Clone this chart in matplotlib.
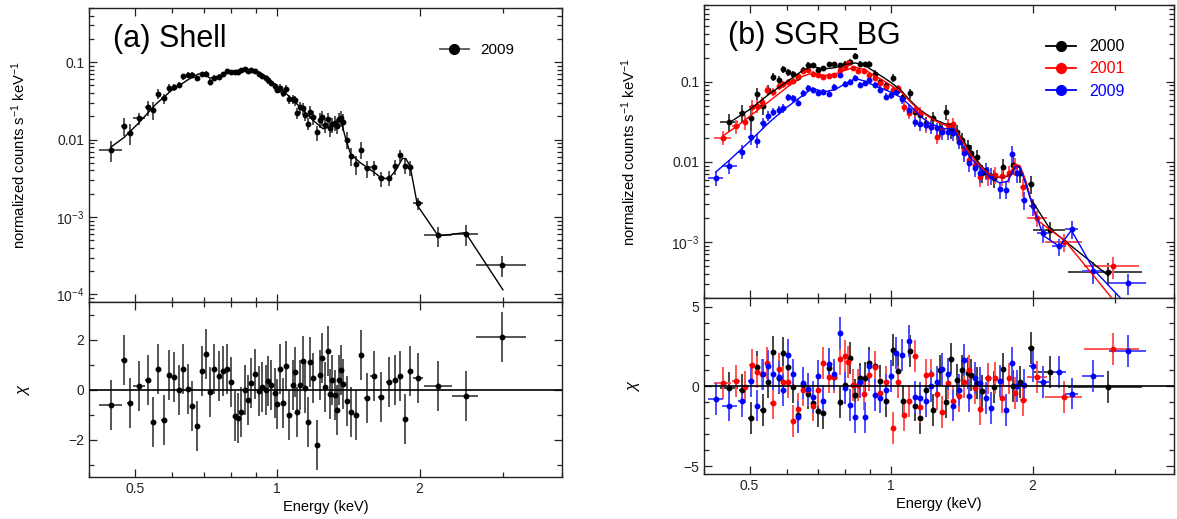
import numpy as np
import matplotlib
matplotlib.use("Agg")
import matplotlib.pyplot as plt
from matplotlib.lines import Line2D
from matplotlib.ticker import FixedLocator, FuncFormatter, LogLocator, MultipleLocator, NullFormatter

plt.rcParams['font.family'] = ['Liberation Sans', 'DejaVu Sans']
plt.rcParams['mathtext.fontset'] = 'custom'
plt.rcParams['mathtext.rm'] = 'Liberation Sans'
plt.rcParams['mathtext.it'] = 'Liberation Sans:italic'
plt.rcParams['mathtext.bf'] = 'Liberation Sans:bold'

# ---- (a) Shell, 2009 ----
shell_e = [0.445, 0.474, 0.488, 0.510, 0.532, 0.546, 0.561, 0.575, 0.591, 0.604,
           0.619, 0.633, 0.647, 0.662, 0.677, 0.692, 0.707, 0.720, 0.736, 0.753,
           0.768, 0.785, 0.798, 0.813, 0.826, 0.840, 0.853, 0.868, 0.881, 0.898,
           0.914, 0.929, 0.945, 0.957, 0.969, 0.987, 1.000, 1.015, 1.028, 1.043,
           1.059, 1.082, 1.090, 1.102, 1.116, 1.133, 1.147, 1.160, 1.175, 1.190,
           1.212, 1.230, 1.246, 1.260, 1.281, 1.295, 1.307, 1.324, 1.336, 1.353,
           1.366, 1.379, 1.404, 1.433, 1.467, 1.505, 1.547, 1.599, 1.659, 1.721,
           1.775, 1.818, 1.865, 1.911, 1.982, 2.192, 2.502, 2.994]
shell_cts = [0.0074, 0.0150, 0.0123, 0.0189, 0.0262, 0.0242, 0.0389, 0.0342, 0.0461, 0.0475,
             0.0509, 0.0653, 0.0686, 0.069, 0.062, 0.070, 0.071, 0.056, 0.063, 0.065,
             0.070, 0.0772, 0.075, 0.074, 0.075, 0.078, 0.082, 0.077, 0.078, 0.076,
             0.071, 0.067, 0.062, 0.058, 0.054, 0.049, 0.044, 0.046, 0.040, 0.045,
             0.033, 0.033, 0.032, 0.0219, 0.026, 0.0254, 0.0209, 0.016, 0.0228, 0.0194,
             0.0124, 0.0179, 0.0194, 0.0155, 0.0183, 0.0140, 0.0158, 0.0166, 0.0150, 0.0183,
             0.0189, 0.0170, 0.0100, 0.00615, 0.00485, 0.0074, 0.00427, 0.0044, 0.00316, 0.0032,
             0.0045, 0.0063, 0.0046, 0.0044, 0.0015, 0.00058, 0.0006, 0.00024]
shell_rel = [0.30, 0.25, 0.30, 0.18, 0.22, 0.25, 0.15, 0.15, 0.12, 0.10,
             0.10, 0.09, 0.08, 0.08, 0.08, 0.08, 0.08, 0.08, 0.07, 0.07,
             0.07, 0.07, 0.07, 0.07, 0.07, 0.07, 0.07, 0.07, 0.07, 0.08,
             0.08, 0.08, 0.09, 0.09, 0.10, 0.10, 0.10, 0.12, 0.12, 0.12,
             0.13, 0.13, 0.15, 0.17, 0.17, 0.17, 0.18, 0.18, 0.20, 0.20,
             0.22, 0.22, 0.22, 0.22, 0.22, 0.22, 0.22, 0.22, 0.22, 0.22,
             0.22, 0.25, 0.25, 0.25, 0.28, 0.25, 0.25, 0.22, 0.22, 0.22,
             0.22, 0.18, 0.22, 0.22, 0.18, 0.30, 0.30, 0.30]
shell_xerr = [0.025, 0.006, 0.006, 0.015, 0.006, 0.006, 0.006, 0.006, 0.006, 0.006,
              0.006, 0.006, 0.006, 0.006, 0.006, 0.006, 0.006, 0.006, 0.006, 0.006,
              0.006, 0.006, 0.006, 0.006, 0.006, 0.006, 0.006, 0.006, 0.006, 0.006,
              0.007, 0.007, 0.007, 0.007, 0.007, 0.007, 0.007, 0.007, 0.007, 0.007,
              0.008, 0.008, 0.008, 0.008, 0.008, 0.008, 0.008, 0.008, 0.008, 0.008,
              0.008, 0.008, 0.008, 0.008, 0.008, 0.008, 0.008, 0.008, 0.008, 0.008,
              0.008, 0.008, 0.012, 0.014, 0.016, 0.018, 0.02, 0.025, 0.025, 0.025,
              0.02, 0.02, 0.02, 0.02, 0.05, 0.15, 0.155, 0.36]
shell_chi = [-0.6, 1.17, -0.52, 0.15, 0.4, -1.29, 0.81, -1.2, 0.57, 0.5,
             0.0, 0.81, 0.04, -0.67, -1.47, 0.75, 1.44, -0.09, 0.81, 0.55,
             0.75, 0.83, 0.32, -1.07, -1.12, -0.89, 0.0, -0.43, 0.27, 0.64,
             -0.05, 0.1, -0.03, 0.35, 0.17, -0.13, -0.56, 0.81, -0.52, 0.93,
             -1.03, 0.17, 0.71, -0.89, 0.17, 1.15, 0.08, -1.29, 1.1, 0.48,
             -2.2, 0.6, 1.27, 0.1, 1.53, -0.19, 0.4, -0.23, -0.83, 0.4,
             0.8, 0.24, -0.47, -0.89, -1.0, 1.37, -0.33, 0.55, -0.29, 0.31,
             0.4, 0.53, -1.16, 0.75, 0.48, 0.13, -0.25, 2.12]
shell_model_e = [0.445, 0.474, 0.51, 0.555, 0.6, 0.65, 0.68, 0.70, 0.72, 0.75, 0.8, 0.85,
                 0.9, 0.95, 1.0, 1.05, 1.1, 1.15, 1.2, 1.25, 1.3, 1.36, 1.40, 1.43,
                 1.5, 1.6, 1.66, 1.72, 1.78, 1.84, 1.87, 1.91, 1.98, 2.19, 2.5, 3.0]
shell_model = [0.0080, 0.0106, 0.0165, 0.029, 0.044, 0.060, 0.070, 0.072, 0.062, 0.066, 0.075, 0.082,
               0.077, 0.062, 0.047, 0.038, 0.029, 0.022, 0.017, 0.0138, 0.0147, 0.019, 0.0095, 0.0065,
               0.0050, 0.0038, 0.0032, 0.0031, 0.0040, 0.0057, 0.0057, 0.0045, 0.0014, 0.00057, 0.00063, 0.000115]

# ---- (b) SGR_BG, 2000 / 2001 / 2009 ----
bg00_e = [0.453, 0.481, 0.503, 0.519, 0.533, 0.548, 0.562, 0.577, 0.590, 0.603,
          0.619, 0.634, 0.651, 0.667, 0.681, 0.700, 0.718, 0.738, 0.758, 0.779,
          0.800, 0.819, 0.839, 0.859, 0.879, 0.898, 0.923, 0.948, 0.974, 1.009,
          1.036, 1.061, 1.100, 1.127, 1.153, 1.185, 1.228, 1.273, 1.307, 1.343,
          1.380, 1.417, 1.455, 1.481, 1.522, 1.563, 1.605, 1.658, 1.734, 1.819,
          1.885, 1.982, 2.175, 2.895]
bg00_cts = [0.0318, 0.0411, 0.035, 0.0695, 0.0498, 0.080, 0.115, 0.105, 0.143, 0.133,
            0.124, 0.115, 0.140, 0.164, 0.161, 0.140, 0.147, 0.165, 0.165, 0.161,
            0.169, 0.177, 0.209, 0.169, 0.165, 0.169, 0.127, 0.100, 0.091, 0.113,
            0.080, 0.065, 0.0716, 0.0424, 0.0385, 0.0303, 0.035, 0.0262, 0.0424, 0.025,
            0.0238, 0.0188, 0.0155, 0.0131, 0.0114, 0.00722, 0.0069, 0.00627, 0.00875, 0.0092,
            0.0072, 0.0053, 0.00143, 0.00042]
bg00_rel = [0.25, 0.25, 0.3, 0.22, 0.22, 0.15, 0.12, 0.12, 0.1, 0.1,
            0.1, 0.1, 0.08, 0.08, 0.08, 0.08, 0.08, 0.08, 0.08, 0.08,
            0.08, 0.08, 0.08, 0.08, 0.08, 0.08, 0.1, 0.1, 0.1, 0.12,
            0.12, 0.14, 0.15, 0.18, 0.18, 0.2, 0.2, 0.22, 0.22, 0.22,
            0.22, 0.22, 0.22, 0.24, 0.24, 0.25, 0.25, 0.25, 0.25, 0.25,
            0.25, 0.25, 0.25, 0.3]
bg00_xerr = [0.02, 0.006, 0.006, 0.006, 0.006, 0.006, 0.006, 0.006, 0.006, 0.006,
             0.006, 0.006, 0.006, 0.006, 0.006, 0.006, 0.006, 0.006, 0.006, 0.006,
             0.006, 0.006, 0.006, 0.006, 0.006, 0.006, 0.008, 0.008, 0.008, 0.008,
             0.008, 0.008, 0.01, 0.01, 0.01, 0.01, 0.012, 0.012, 0.012, 0.012,
             0.012, 0.012, 0.012, 0.012, 0.015, 0.015, 0.015, 0.02, 0.02, 0.02,
             0.02, 0.03, 0.17, 0.52]
bg00_chi = [-0.1, -0.25, -2.0, 1.2, -1.5, 0.25, 2.15, 0.55, 2.1, 1.2,
            -0.05, -1.8, 0.1, -0.45, -1.05, -1.55, -1.65, 1.15, 0.6, -1.0,
            0.1, 1.8, -0.55, 0.5, 0.55, 1.5, 1.25, 0.35, -0.9, 2.3,
            0.95, -0.9, 2.2, -1.2, -2.0, -0.25, -1.5, 1.0, -1.0, 1.75,
            0.4, 1.0, 0.85, 0.7, 0.2, -0.3, 0.5, -0.05, 1.1, 0.0,
            0.3, 2.4, 0.9, -0.05]
bg00_model_e = [0.453, 0.50, 0.55, 0.60, 0.65, 0.68, 0.72, 0.76, 0.80, 0.84, 0.88, 0.92,
                0.96, 1.0, 1.05, 1.10, 1.15, 1.20, 1.25, 1.30, 1.36, 1.42, 1.48, 1.55,
                1.62, 1.70, 1.77, 1.84, 1.88, 1.93, 1.98, 2.18, 2.90]
bg00_model = [0.031, 0.045, 0.070, 0.100, 0.140, 0.155, 0.145, 0.150, 0.165, 0.172, 0.160, 0.135,
              0.115, 0.098, 0.078, 0.058, 0.045, 0.038, 0.033, 0.030, 0.028, 0.019, 0.013, 0.0092,
              0.0070, 0.0064, 0.0066, 0.0090, 0.0088, 0.0060, 0.0035, 0.00145, 0.00038]

bg01_e = [0.438, 0.468, 0.489, 0.505, 0.519, 0.532, 0.545, 0.560, 0.577, 0.590,
          0.604, 0.619, 0.634, 0.651, 0.667, 0.681, 0.700, 0.718, 0.738, 0.758,
          0.779, 0.797, 0.811, 0.829, 0.851, 0.875, 0.898, 0.923, 0.948, 0.974,
          1.009, 1.036, 1.064, 1.093, 1.123, 1.153, 1.185, 1.217, 1.250, 1.284,
          1.319, 1.355, 1.392, 1.429, 1.468, 1.508, 1.549, 1.605, 1.664, 1.724,
          1.781, 1.835, 1.913, 2.043, 2.336, 2.973]
bg01_cts = [0.0201, 0.0281, 0.0318, 0.0489, 0.0498, 0.0564, 0.080, 0.0752, 0.0883, 0.0935,
            0.100, 0.103, 0.118, 0.137, 0.140, 0.127, 0.121, 0.115, 0.118, 0.121,
            0.140, 0.154, 0.173, 0.147, 0.137, 0.137, 0.121, 0.113, 0.0953, 0.085,
            0.080, 0.0826, 0.0489, 0.0403, 0.0444, 0.0411, 0.0289, 0.0276, 0.0207, 0.025,
            0.0289, 0.0297, 0.0188, 0.0141, 0.0106, 0.0092, 0.00644, 0.0066, 0.0069, 0.0066,
            0.0072, 0.0089, 0.00493, 0.00199, 0.0010, 0.000497]
bg01_rel = [0.2, 0.2, 0.22, 0.2, 0.18, 0.15, 0.12, 0.12, 0.1, 0.1,
            0.1, 0.09, 0.08, 0.08, 0.08, 0.08, 0.08, 0.08, 0.08, 0.08,
            0.08, 0.08, 0.08, 0.08, 0.08, 0.08, 0.08, 0.09, 0.1, 0.1,
            0.12, 0.12, 0.15, 0.15, 0.17, 0.18, 0.2, 0.2, 0.2, 0.2,
            0.2, 0.2, 0.2, 0.22, 0.22, 0.22, 0.24, 0.24, 0.24, 0.24,
            0.24, 0.24, 0.25, 0.22, 0.25, 0.3]
bg01_xerr = [0.018, 0.01, 0.006, 0.006, 0.006, 0.006, 0.006, 0.006, 0.006, 0.006,
             0.006, 0.006, 0.006, 0.006, 0.006, 0.006, 0.006, 0.006, 0.006, 0.006,
             0.006, 0.006, 0.006, 0.006, 0.006, 0.006, 0.008, 0.008, 0.008, 0.008,
             0.008, 0.008, 0.01, 0.01, 0.01, 0.01, 0.012, 0.012, 0.012, 0.012,
             0.012, 0.012, 0.012, 0.012, 0.015, 0.015, 0.015, 0.02, 0.02, 0.02,
             0.02, 0.02, 0.03, 0.1, 0.21, 0.4]
bg01_chi = [0.2, 0.35, -0.05, 1.35, 0.9, 0.75, 1.45, -1.05, 1.1, 0.3,
            0.3, -2.15, -1.4, -0.25, -0.2, -1.2, -0.2, 1.45, 0.6, 0.6,
            1.7, 1.9, 1.55, 0.1, 0.1, -0.5, 0.7, 1.2, -0.4, 0.25,
            -2.6, 0.3, -1.8, -0.9, 1.9, -1.3, 0.7, 0.75, -0.5, -1.6,
            0.2, -0.9, -0.6, 0.3, 1.0, -0.1, -1.45, 0.5, 0.55, -0.7,
            0.5, -0.4, -0.85, 0.6, -0.65, 2.35]
bg01_model_e = [0.438, 0.47, 0.50, 0.55, 0.60, 0.65, 0.68, 0.72, 0.76, 0.80, 0.84, 0.88,
                0.92, 0.96, 1.0, 1.05, 1.10, 1.15, 1.20, 1.25, 1.30, 1.36, 1.42, 1.48,
                1.55, 1.62, 1.70, 1.77, 1.84, 1.88, 1.93, 2.04, 2.34, 2.97]
bg01_model = [0.021, 0.028, 0.037, 0.057, 0.085, 0.118, 0.128, 0.120, 0.125, 0.140, 0.152, 0.142,
              0.120, 0.105, 0.090, 0.075, 0.056, 0.044, 0.037, 0.032, 0.029, 0.028, 0.018, 0.012,
              0.0088, 0.0070, 0.0064, 0.0067, 0.0092, 0.0090, 0.0060, 0.0019, 0.00105, 0.00019]

bg09_e = [0.424, 0.453, 0.481, 0.503, 0.519, 0.533, 0.548, 0.562, 0.577, 0.590,
          0.604, 0.619, 0.634, 0.651, 0.667, 0.681, 0.700, 0.718, 0.738, 0.758,
          0.779, 0.797, 0.819, 0.839, 0.859, 0.879, 0.898, 0.923, 0.948, 0.974,
          1.000, 1.027, 1.055, 1.093, 1.123, 1.153, 1.185, 1.217, 1.250, 1.284,
          1.319, 1.355, 1.392, 1.429, 1.468, 1.508, 1.549, 1.591, 1.635, 1.709,
          1.756, 1.810, 1.852, 1.920, 2.000, 2.110, 2.275, 2.422, 2.695, 3.194]
bg09_cts = [0.00627, 0.00891, 0.01346, 0.0203, 0.0184, 0.0303, 0.0374, 0.0424, 0.0444, 0.0466,
            0.0638, 0.062, 0.0548, 0.0716, 0.0826, 0.0787, 0.073, 0.0752, 0.0702, 0.085,
            0.121, 0.0935, 0.100, 0.113, 0.091, 0.0953, 0.105, 0.091, 0.080, 0.065,
            0.068, 0.075, 0.0603, 0.0444, 0.0318, 0.0297, 0.0289, 0.0276, 0.0262, 0.0238,
            0.0238, 0.0228, 0.0179, 0.0128, 0.0096, 0.0083, 0.0072, 0.0079, 0.0067, 0.00457,
            0.0045, 0.0126, 0.0072, 0.00336, 0.00278, 0.00129, 0.00088, 0.00145, 0.00043, 0.00031]
bg09_rel = [0.2, 0.2, 0.2, 0.2, 0.2, 0.15, 0.14, 0.12, 0.12, 0.12,
            0.1, 0.1, 0.1, 0.09, 0.09, 0.09, 0.09, 0.09, 0.09, 0.09,
            0.08, 0.08, 0.08, 0.08, 0.08, 0.08, 0.08, 0.09, 0.1, 0.1,
            0.1, 0.1, 0.12, 0.15, 0.15, 0.17, 0.17, 0.18, 0.18, 0.2,
            0.2, 0.2, 0.2, 0.22, 0.22, 0.22, 0.24, 0.24, 0.24, 0.24,
            0.24, 0.25, 0.25, 0.25, 0.25, 0.25, 0.25, 0.25, 0.3, 0.3]
bg09_xerr = [0.016, 0.017, 0.008, 0.006, 0.006, 0.006, 0.006, 0.006, 0.006, 0.006,
             0.006, 0.006, 0.006, 0.006, 0.006, 0.006, 0.006, 0.006, 0.006, 0.006,
             0.006, 0.006, 0.006, 0.006, 0.006, 0.006, 0.008, 0.008, 0.008, 0.008,
             0.008, 0.008, 0.01, 0.01, 0.01, 0.01, 0.012, 0.012, 0.012, 0.012,
             0.012, 0.012, 0.012, 0.012, 0.015, 0.015, 0.015, 0.015, 0.02, 0.02,
             0.02, 0.02, 0.02, 0.03, 0.03, 0.065, 0.08, 0.08, 0.15, 0.29]
bg09_chi = [-0.8, -1.2, -0.9, 0.35, -1.2, 0.75, 1.3, 0.8, 0.6, -0.2,
            1.95, 0.75, -1.9, 0.2, -0.15, -0.65, 0.65, -0.9, 1.4, 0.75,
            3.35, -0.1, -1.15, -1.95, 0.25, -1.95, 1.3, -0.55, -0.7, -0.25,
            0.65, 2.1, 1.95, 2.85, -0.65, -0.75, -0.9, 0.05, 0.3, 1.1,
            0.8, -1.2, -0.2, 1.65, -0.6, 0.55, 0.2, -0.75, -1.35, 0.35,
            -1.5, 1.45, 0.0, 0.1, 1.25, 0.3, 0.9, -0.45, 0.65, 2.2]
bg09_model_e = [0.424, 0.453, 0.50, 0.55, 0.60, 0.65, 0.68, 0.72, 0.76, 0.80, 0.84, 0.88,
                0.92, 0.96, 1.0, 1.05, 1.10, 1.15, 1.20, 1.25, 1.30, 1.36, 1.42, 1.48,
                1.55, 1.62, 1.70, 1.77, 1.84, 1.88, 1.93, 2.0, 2.11, 2.28, 2.42, 2.70, 3.19]
bg09_model = [0.0075, 0.0105, 0.018, 0.031, 0.048, 0.068, 0.083, 0.075, 0.080, 0.095, 0.110, 0.102,
              0.090, 0.082, 0.074, 0.064, 0.050, 0.038, 0.031, 0.028, 0.026, 0.026, 0.016, 0.011,
              0.0083, 0.0065, 0.0055, 0.0057, 0.0088, 0.0085, 0.0055, 0.0029, 0.0012, 0.00088, 0.00140, 0.00045, 0.00016]

W, H = 1177, 519
fig = plt.figure(figsize=(W / 100, H / 100), dpi=100)


def box(x0, x1, y0, y1):
    return [x0 / W, 1 - y1 / H, (x1 - x0) / W, (y1 - y0) / H]


def ylog_fmt(v, pos):
    labels = {0.1: '0.1', 0.01: '0.01', 1e-3: '$10^{-3}$', 1e-4: '$10^{-4}$'}
    for k, s in labels.items():
        if abs(v - k) / k < 1e-6:
            return s
    return ''


def style_x(ax, labels=True):
    ax.set_xscale('log')
    ax.set_xlim(0.4, 4.0)
    ax.xaxis.set_major_locator(FixedLocator([0.5, 1, 2]))
    ax.xaxis.set_minor_locator(FixedLocator([0.4, 0.6, 0.7, 0.8, 0.9, 3, 4]))
    ax.xaxis.set_minor_formatter(NullFormatter())
    if labels:
        ax.xaxis.set_major_formatter(FuncFormatter(lambda v, p: '%g' % v))
    else:
        ax.xaxis.set_major_formatter(NullFormatter())
    ax.tick_params(which='both', direction='in', top=True, right=True, labelsize=10, colors='#222222')
    ax.tick_params(which='major', length=6, width=0.9)
    ax.tick_params(which='minor', length=3.5, width=0.9)
    for s in ax.spines.values():
        s.set_linewidth(1.0)
        s.set_color('#222222')


def spec_panel(ax, sets, ylim, title):
    style_x(ax, labels=False)
    ax.set_yscale('log')
    ax.set_ylim(*ylim)
    ax.yaxis.set_major_locator(LogLocator(base=10, numticks=10))
    ax.yaxis.set_minor_locator(LogLocator(base=10, subs=np.arange(2, 10), numticks=20))
    ax.yaxis.set_major_formatter(FuncFormatter(ylog_fmt))
    ax.yaxis.set_minor_formatter(NullFormatter())
    for e, c, rel, xe, me, mv, col, ecol in sets:
        c = np.array(c)
        ax.errorbar(e, c, yerr=c * np.array(rel), xerr=xe, fmt='o', ms=3.2, color=col,
                    ecolor=ecol, elinewidth=1.4, capsize=0, zorder=3)
        ax.plot(me, mv, color=col, lw=1.0, zorder=4)
    ax.text(0.05, 0.895, title, transform=ax.transAxes, fontsize=22, va='center', ha='left')
    ax.set_ylabel('normalized counts s$^{-1}$ keV$^{-1}$', fontsize=10.7)


def chi_panel(ax, sets, ylim, major, minor):
    style_x(ax, labels=True)
    ax.set_ylim(*ylim)
    ax.yaxis.set_major_locator(MultipleLocator(major))
    ax.yaxis.set_minor_locator(MultipleLocator(minor))
    ax.axhline(0, color='black', lw=1.2, zorder=5)
    for e, chi, xe, col, ecol in sets:
        ax.errorbar(e, chi, yerr=1.0, xerr=xe, fmt='o', ms=3.2, color=col,
                    ecolor=ecol, elinewidth=1.4, capsize=0, zorder=3)
    ax.set_ylabel(r'$\chi$', fontsize=12)
    ax.set_xlabel('Energy (keV)', fontsize=10.5, labelpad=3)


# left
axa = fig.add_axes(box(89, 562, 8, 302))
axa_r = fig.add_axes(box(89, 562, 302, 477))
spec_panel(axa, [(shell_e, shell_cts, shell_rel, shell_xerr, shell_model_e, shell_model, 'black', '#555555')],
           (8e-5, 0.5), '(a) Shell')
chi_panel(axa_r, [(shell_e, shell_chi, shell_xerr, 'black', '#555555')], (-3.5, 3.5), 2, 1)
axa.legend(handles=[Line2D([], [], color='#555555', lw=1.3, marker='o', ms=7, mfc='black', mec='black')],
           labels=['2009'], loc='center left', bbox_to_anchor=(0.725, 0.857), frameon=False,
           borderpad=0, handlelength=1.9, handletextpad=0.75, fontsize=11)
axa.yaxis.set_label_coords(-0.129, 0.5)
axa_r.yaxis.set_label_coords(-0.121, 0.5)

# right
axb = fig.add_axes(box(704, 1174, 5, 298))
axb_r = fig.add_axes(box(704, 1174, 298, 474))
spec_panel(axb, [
    (bg00_e, bg00_cts, bg00_rel, bg00_xerr, bg00_model_e, bg00_model, 'black', '#444444'),
    (bg01_e, bg01_cts, bg01_rel, bg01_xerr, bg01_model_e, bg01_model, 'red', '#ff5555'),
    (bg09_e, bg09_cts, bg09_rel, bg09_xerr, bg09_model_e, bg09_model, 'blue', '#4d4dff'),
], (2.0e-4, 0.91), '(b) SGR_BG')
chi_panel(axb_r, [
    (bg00_e, bg00_chi, bg00_xerr, 'black', '#444444'),
    (bg01_e, bg01_chi, bg01_xerr, 'red', '#ff5555'),
    (bg09_e, bg09_chi, bg09_xerr, 'blue', '#4d4dff'),
], (-5.5, 5.55), 5, 1)
hb = [Line2D([], [], color=c, lw=1.3, marker='o', ms=7) for c in ['black', 'red', 'blue']]
leg = axb.legend(handles=hb, labels=['2000', '2001', '2009'], loc='center left',
                 bbox_to_anchor=(0.71, 0.782), frameon=False, borderpad=0,
                 handlelength=1.9, handletextpad=0.8, labelspacing=0.45, fontsize=11.5)
for t, c in zip(leg.get_texts(), ['black', 'red', 'blue']):
    t.set_color(c)
axb.yaxis.set_label_coords(-0.141, 0.5)
axb_r.yaxis.set_label_coords(-0.132, 0.5)

fig.savefig('out.png', dpi=100)
